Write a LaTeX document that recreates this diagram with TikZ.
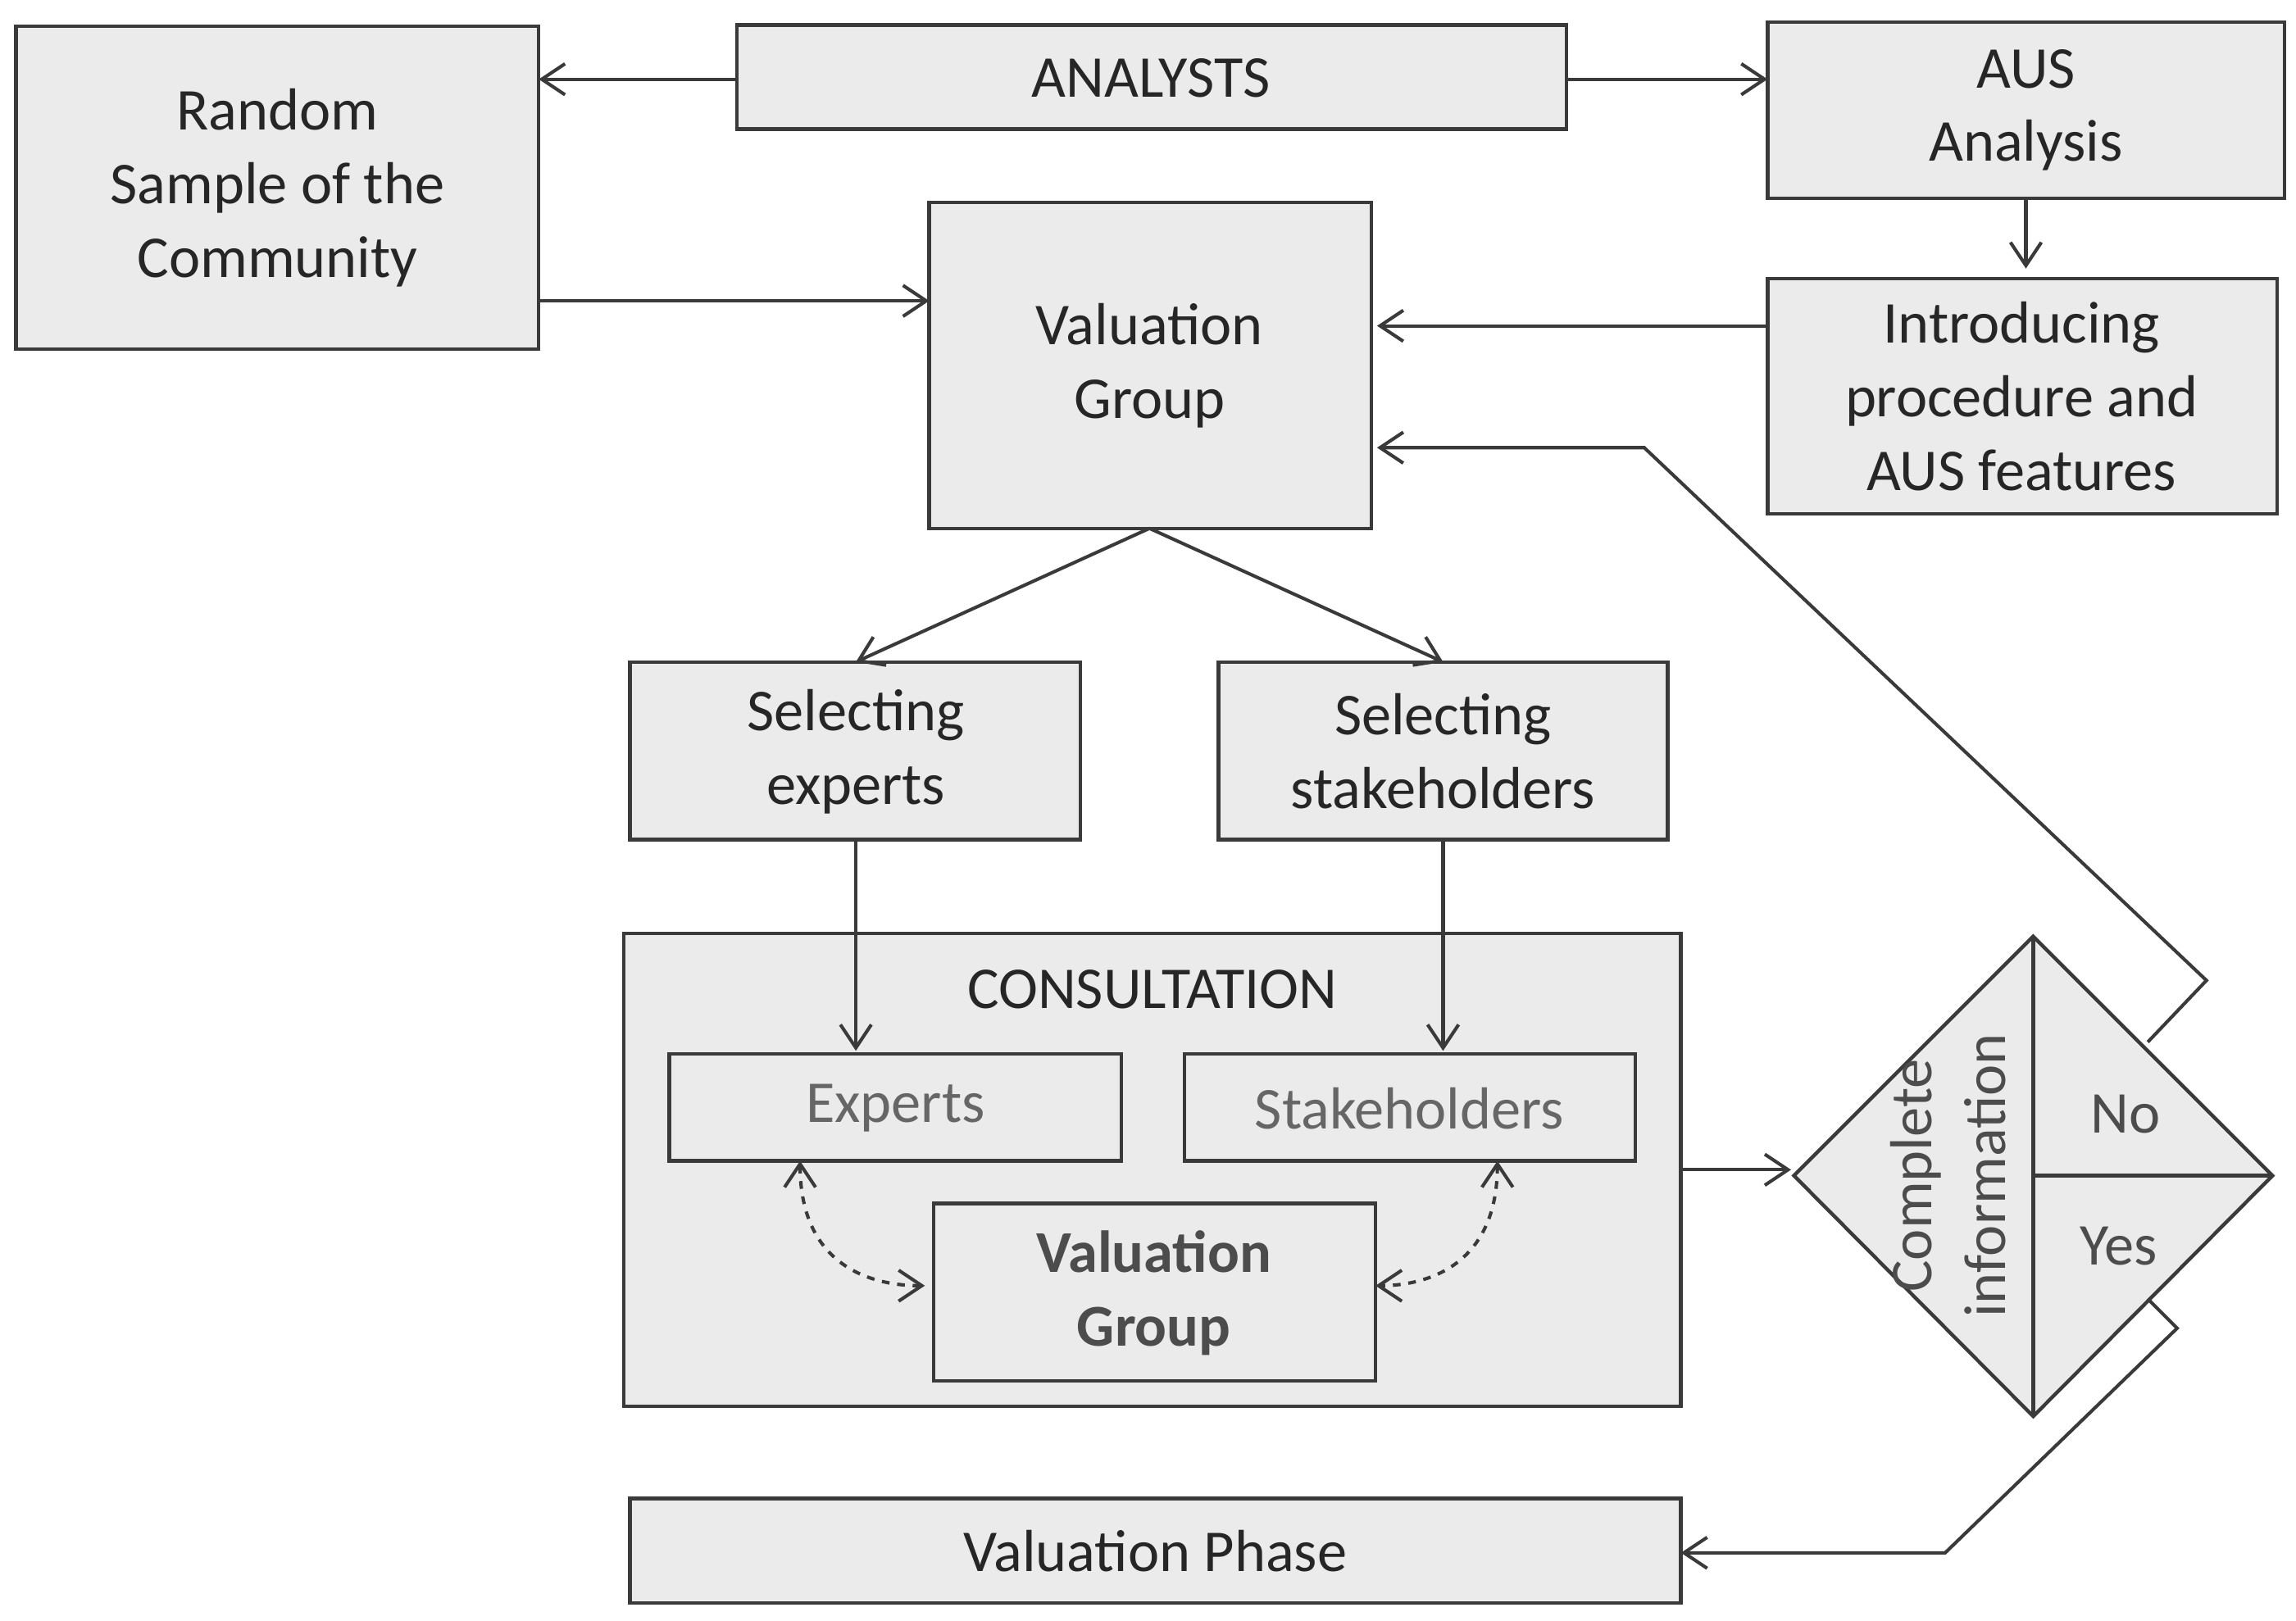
\documentclass[tikz,border=0pt]{standalone}
\usepackage{fontspec}
\setmainfont{Carlito}
\usetikzlibrary{arrows.meta}
\definecolor{fillg}{HTML}{EBEBEB}
\definecolor{lineg}{HTML}{3A3A3A}
\begin{document}
\begin{tikzpicture}[x=0.02cm,y=-0.02cm,
 box/.style={draw=lineg,line width=1.4pt,fill=fillg},
 txt/.style={align=center,font=\fontsize{23}{28.5}\selectfont,text=black!85},
 arr/.style={draw=lineg,line width=1.3pt,-{Straight Barb[length=9pt,width=12pt]}},
 darr/.style={draw=lineg,line width=1.3pt,dashed,{Straight Barb[length=9pt,width=12pt]}-{Straight Barb[length=9pt,width=12pt]}}]
\useasboundingbox (0,0) rectangle (1564,1104);
\path[box] (11,18) rectangle (367,238); \node[txt] (rs) at (189,128) {Random\\Sample of the\\Community};
\path[box] (502,17) rectangle (1067,88); \node[txt] (an) at (784,53) {ANALYSTS};
\path[box] (1204,15) rectangle (1556,135); \node[txt] (aus) at (1380,75) {AUS\\Analysis};
\path[box] (633,138) rectangle (934,360); \node[txt] (vg) at (783,249) {Valuation\\Group};
\path[box] (1204,190) rectangle (1551,350); \node[txt] (int) at (1377,270) {Introducing\\procedure and\\AUS features};
\path[box] (429,451) rectangle (736,572); \node[txt] (se) at (583,512) {Selecting\\experts};
\path[box] (830,451) rectangle (1136,572); \node[txt] (ss) at (983,512) {Selecting\\stakeholders};
\path[box] (425,636) rectangle (1145,958); \node[txt] (con) at (785,674) {CONSULTATION};
\path[box] (456,718) rectangle (764,791); \node[txt,text=black!60] (ex) at (610,755) {Experts};
\path[box] (807,718) rectangle (1114,791); \node[txt,text=black!60] (st) at (960,755) {Stakeholders};
\path[box] (636,820) rectangle (937,941); \node[txt,font=\fontsize{23}{28.5}\selectfont\bfseries,text=black!70] (vg2) at (786,881) {Valuation\\Group};
\path[box] (429,1021) rectangle (1145,1092); \node[txt] (vp) at (787,1057) {Valuation Phase};
\path[box] (1222,801) -- (1385,638) -- (1548,801) -- (1385,965) -- cycle;
\draw[lineg,line width=1.3pt] (1385,638) -- (1385,965) (1385,801) -- (1548,801);
\node[txt,text=black!70,rotate=90] (ci) at (1327,801) {Complete\\information};
\node[txt,text=black!70] (no) at (1448,759) {No};
\node[txt,text=black!70] (yes) at (1443,849) {Yes};
\coordinate (a1) at (502,54); \coordinate (b1) at (367,54);
\draw[arr] (a1) -- (b1);
\draw[arr] (1067,54) -- (1204,54);
\draw[arr] (1380,135) -- (1380,183);
\draw[arr] (367,205) -- (633,205);
\draw[arr] (1204,222) -- (938,222);
\draw[arr] (1463,710) -- (1503,668) -- (1120,305) -- (938,305);
\draw[arr] (783,360) -- (583,451);
\draw[arr] (783,360) -- (983,451);
\draw[arr] (583,572) -- (583,716);
\draw[arr] (983,572) -- (983,716);
\draw[arr] (1145,797) -- (1220,797);
\draw[arr] (1463,885) -- (1483,905) -- (1325,1058) -- (1145,1058);
\draw[darr] (545,791) .. controls (545,860) and (590,876) .. (630,876);
\draw[darr] (1020,791) .. controls (1020,860) and (975,876) .. (937,876);
\end{tikzpicture}
\end{document}
